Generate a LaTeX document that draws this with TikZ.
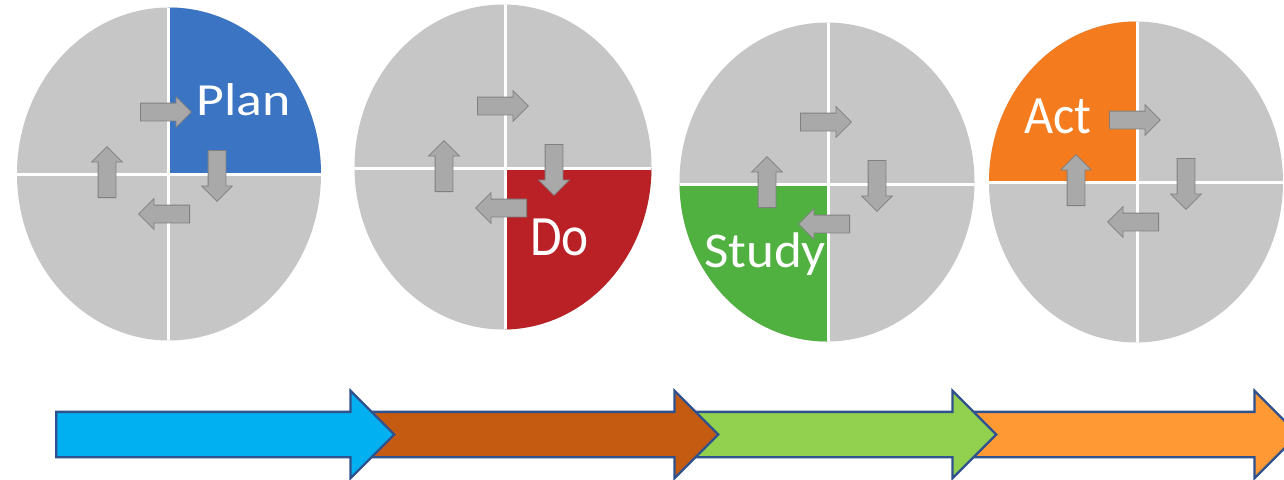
\documentclass[tikz,border=0pt]{standalone}
\usepackage{fontspec}
\setmainfont{Carlito}
\usetikzlibrary{shapes.geometric,shapes.arrows}

\definecolor{wheelgray}{HTML}{C6C6C6}
\definecolor{planblue}{HTML}{3B74C2}
\definecolor{dored}{HTML}{BA2126}
\definecolor{studygreen}{HTML}{50B140}
\definecolor{actorange}{HTML}{F47B1E}
\definecolor{turnfill}{HTML}{A9A9A9}
\definecolor{turnline}{HTML}{808080}
\definecolor{stepline}{HTML}{2F528F}
\definecolor{stepcyan}{HTML}{00B0F0}
\definecolor{stepbrown}{HTML}{C55A11}
\definecolor{stepgreen}{HTML}{92D050}
\definecolor{steporange}{HTML}{FF9933}

% four small turning arrows around a wheel's crossing point (placed by their tails)
\newcommand\turnarrows[3]{%
  \begin{scope}[shift={(#2,#3)}]
    \node[turnarrow]            (#1-right) at (-28,-62) {};
    \node[turnarrow,rotate=-90] (#1-down)  at (49,-24)  {};
    \node[turnarrow,rotate=180] (#1-left)  at (22,40)   {};
    \node[turnarrow,rotate=90]  (#1-up)    at (-61,24)  {};
  \end{scope}}

\begin{document}
\begin{tikzpicture}[x=1pt,y=-1pt,
  wheel/.style={ellipse,fill=wheelgray,inner sep=0pt},
  divider/.style={white,line width=3pt},
  turnarrow/.style={single arrow,anchor=tail,fill=turnfill,draw=turnline,
    line width=0.8pt,inner xsep=0pt,inner ysep=8.5pt,
    single arrow head extend=6.5pt,minimum height=51pt},
  stagearrow/.style={single arrow,anchor=tail,draw=stepline,line width=2.4pt,
    inner xsep=0pt,inner ysep=21.5pt,single arrow head extend=21pt},
  stagelabel/.style={white,inner sep=0pt,anchor=base west}]

\fill[white] (0,0) rectangle (1284,479);
\useasboundingbox (0,0) rectangle (1284,479);
\clip (0,0) rectangle (1284,479);

% Plan wheel (path picture coordinates are relative to the wheel centre)
\node[wheel,minimum width=304pt,minimum height=333pt,path picture={
    \fill[planblue] (-1,0) rectangle (200,-200);
    \draw[divider] (-1,-200) -- (-1,200);
    \draw[divider] (-200,0) -- (200,0);}] (plan) at (169,174) {};
\turnarrows{plan}{168}{174}
\node[stagelabel,font=\fontsize{46}{46}\selectfont] (plan-text) at (196,115)
  {\scalebox{1.17}[1]{Plan}};

% Do wheel
\node[wheel,minimum width=297pt,minimum height=325pt,path picture={
    \fill[dored] (2,1) rectangle (200,200);
    \draw[divider] (2,-200) -- (2,200);
    \draw[divider] (-200,1) -- (200,1);}] (do) at (503,167) {};
\turnarrows{do}{505}{168}
\node[stagelabel,font=\fontsize{57}{57}\selectfont] (do-text) at (530,255)
  {\scalebox{0.9}[1]{Do}};

% Study wheel
\node[wheel,minimum width=295pt,minimum height=319pt,path picture={
    \fill[studygreen] (1,2) rectangle (-200,200);
    \draw[divider] (1,-200) -- (1,200);
    \draw[divider] (-200,2) -- (200,2);}] (study) at (827,182) {};
\turnarrows{study}{828}{184}
\node[stagelabel,font=\fontsize{50}{50}\selectfont] (study-text) at (704,267)
  {\scalebox{1.06}[1]{Study}};

% Act wheel
\node[wheel,minimum width=294pt,minimum height=321pt,path picture={
    \fill[actorange] (1,0) rectangle (-200,-200);
    \draw[divider] (1,-200) -- (1,200);
    \draw[divider] (-200,0) -- (200,0);}] (act) at (1136,182) {};
\turnarrows{act}{1137}{182}
\node[stagelabel,font=\fontsize{54}{54}\selectfont] (act-text) at (1024,133)
  {\scalebox{0.93}[1]{Act}};

% timeline of stage arrows, each head lying over the next shaft
\node[stagearrow,fill=steporange,minimum height=331pt] (step-act)   at (966,434.5) {};
\node[stagearrow,fill=stepgreen, minimum height=305pt] (step-study) at (690,434.5) {};
\node[stagearrow,fill=stepbrown, minimum height=361pt] (step-do)    at (356,434.5) {};
\node[stagearrow,fill=stepcyan,  minimum height=338pt] (step-plan)  at (55,434.5)  {};
\end{tikzpicture}
\end{document}
